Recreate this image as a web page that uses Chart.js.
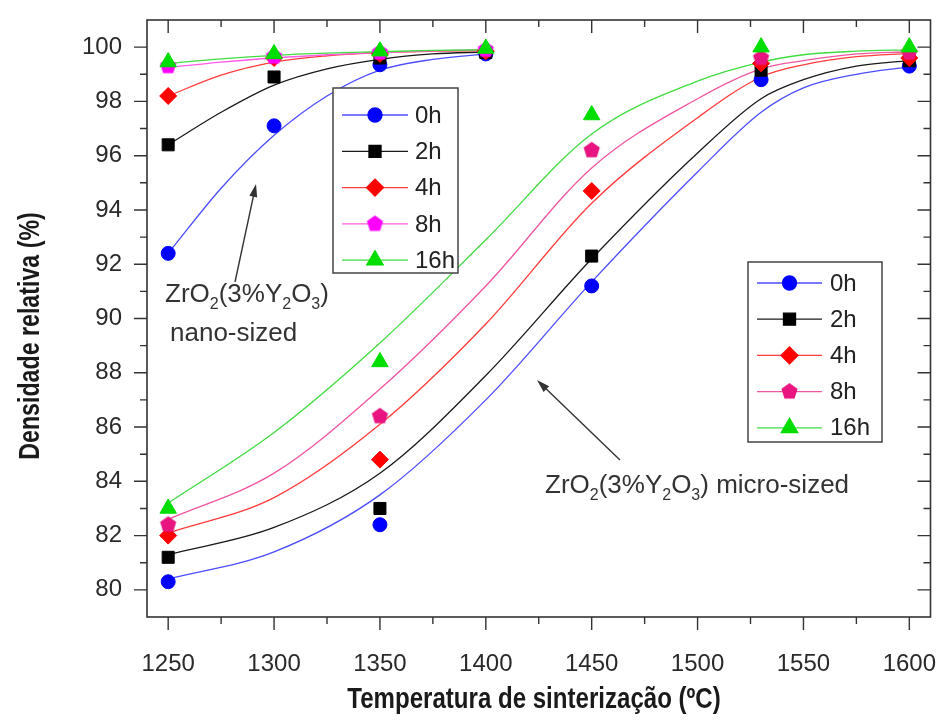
<!DOCTYPE html>
<html>
<head>
<meta charset="utf-8">
<script src="https://cdn.jsdelivr.net/npm/chart.js@4.4.1/dist/chart.umd.min.js"></script>
<style>
  html, body { margin: 0; padding: 0; background: #fff; }
  #wrap { width: 941px; height: 727px; }
</style>
</head>
<body>
<div id="wrap"><canvas id="grafico" width="941" height="727"></canvas></div>
<script>
// eixos
const xTicks = [1250, 1300, 1350, 1400, 1450, 1500, 1550, 1600];
const yTicks = [80, 82, 84, 86, 88, 90, 92, 94, 96, 98, 100];
const holdTimes = ['0h', '2h', '4h', '8h', '16h'];

// ZrO2(3%Y2O3) nano - pontos medidos
const nanoTemps = [1250, 1300, 1350, 1400];
const nano0h  = [92.4, 97.1, 99.35, 99.75];
const nano2h  = [96.4, 98.9, 99.6, 99.8];
const nano4h  = [98.2, 99.6, 99.75, 99.85];
const nano8h  = [99.3, 99.65, 99.8, 99.9];
const nano16h = [99.45, 99.75, 99.85, 99.95];

// nano - curvas ajustadas
const nanoFitTemps = [1250, 1275, 1300, 1325, 1350, 1375, 1400];
const nanoFit0h  = [92.4, 94.8, 96.75, 98.2, 99.15, 99.55, 99.75];
const nanoFit2h  = [96.4, 97.6, 98.6, 99.2, 99.55, 99.75, 99.82];
const nanoFit4h  = [98.2, 98.97, 99.45, 99.68, 99.8, 99.85, 99.87];
const nanoFit8h  = [99.25, 99.45, 99.6, 99.72, 99.8, 99.86, 99.9];
const nanoFit16h = [99.4, 99.57, 99.7, 99.78, 99.83, 99.88, 99.9];

// ZrO2(3%Y2O3) micro - pontos medidos
const microTemps = [1250, 1350, 1450, 1530, 1600];
const micro0h  = [80.3, 82.4, 91.2, 98.8, 99.3];
const micro2h  = [81.2, 83.0, 92.3, 99.15, 99.5];
const micro4h  = [82.0, 84.8, 94.7, 99.4, 99.6];
const micro8h  = [82.4, 86.4, 96.2, 99.6, 99.8];
const micro16h = [83.0, 88.4, 97.5, 100.0, 100.0];

// micro - curvas ajustadas
const microFitTemps = [1250, 1300, 1350, 1400, 1450, 1500, 1530, 1550, 1575, 1600];
const microFit0h  = [80.4, 81.4, 83.5, 87.0, 91.35, 95.4, 97.6, 98.5, 99.0, 99.27];
const microFit2h  = [81.3, 82.3, 84.3, 87.9, 92.2, 96.1, 98.1, 98.8, 99.3, 99.5];
const microFit4h  = [82.1, 83.4, 86.1, 89.8, 94.25, 97.4, 98.9, 99.35, 99.65, 99.77];
const microFit8h  = [82.6, 84.3, 87.4, 91.2, 95.55, 98.1, 99.2, 99.5, 99.75, 99.83];
const microFit16h = [83.2, 85.8, 89.1, 92.9, 96.8, 98.75, 99.45, 99.72, 99.85, 99.9];

const nanoMarkerColors  = ['#0000ff', '#000000', '#ff0000', '#ff00ff', '#00dd00'];
const microMarkerColors = ['#0000ff', '#000000', '#ff0000', '#e8147f', '#00dd00'];
const nanoLineColors  = ['#4d4dff', '#1a1a1a', '#ff3b3b', '#ff5ce6', '#40dc40'];
const microLineColors = ['#4d4dff', '#1a1a1a', '#ff3b3b', '#f0559f', '#40dc40'];

// pentagono pro 8h (chart.js nao tem esse pointStyle)
function pentagono(cor, r) {
    const c = document.createElement('canvas');
    const s = Math.ceil(r * 2 + 2);
    c.width = s; c.height = s;
    const g = c.getContext('2d');
    g.fillStyle = cor;
    g.beginPath();
    for (let i = 0; i < 5; i++) {
        const a = -Math.PI / 2 + i * 2 * Math.PI / 5;
        g.lineTo(s / 2 + r * Math.cos(a), s / 2 + r * Math.sin(a));
    }
    g.closePath();
    g.fill();
    return c;
}

const estilos = ['circle', 'rect', 'rectRot', null, 'triangle'];
const raios = [7, 8.5, 8.5, 8, 9.5];

function pts(xs, ys) {
    return xs.map((x, i) => ({ x: x, y: ys[i] }));
}

function estiloPonto(i, cores) {
    return estilos[i] || pentagono(cores[i], 8.5);
}

const nanoSeries = [nano0h, nano2h, nano4h, nano8h, nano16h];
const nanoFits = [nanoFit0h, nanoFit2h, nanoFit4h, nanoFit8h, nanoFit16h];
const microSeries = [micro0h, micro2h, micro4h, micro8h, micro16h];
const microFits = [microFit0h, microFit2h, microFit4h, microFit8h, microFit16h];

let datasets = [];
holdTimes.forEach(function (h, i) {
    datasets.push({
        label: h + ' fit nano',
        data: pts(nanoFitTemps, nanoFits[i]),
        borderColor: nanoLineColors[i],
        borderWidth: 1.3,
        pointRadius: 0,
        cubicInterpolationMode: 'monotone',
        fill: false,
        order: 20 - i
    });
    datasets.push({
        label: h + ' fit micro',
        data: pts(microFitTemps, microFits[i]),
        borderColor: microLineColors[i],
        borderWidth: 1.3,
        pointRadius: 0,
        cubicInterpolationMode: 'monotone',
        fill: false,
        order: 20 - i
    });
    datasets.push({
        label: h,
        data: pts(nanoTemps, nanoSeries[i]),
        showLine: false,
        pointStyle: estiloPonto(i, nanoMarkerColors),
        pointRadius: raios[i],
        backgroundColor: nanoMarkerColors[i],
        borderColor: nanoMarkerColors[i],
        borderWidth: 1,
        order: 4 - i
    });
    datasets.push({
        label: h,
        data: pts(microTemps, microSeries[i]),
        showLine: false,
        pointStyle: estiloPonto(i, microMarkerColors),
        pointRadius: raios[i],
        backgroundColor: microMarkerColors[i],
        borderColor: microMarkerColors[i],
        borderWidth: 1,
        order: 4 - i
    });
});

// legendas em caixa (duas, uma por material)
function desenhaLegenda(ctx, caixa, cores, coresLinha) {
    ctx.save();
    ctx.fillStyle = '#fff';
    ctx.fillRect(caixa.x, caixa.y, caixa.w, caixa.h);
    ctx.strokeStyle = '#444';
    ctx.lineWidth = 1.5;
    ctx.strokeRect(caixa.x, caixa.y, caixa.w, caixa.h);
    holdTimes.forEach(function (h, i) {
        const y = caixa.y0 + i * caixa.passo;
        ctx.strokeStyle = coresLinha[i];
        ctx.lineWidth = 1.3;
        ctx.beginPath();
        ctx.moveTo(caixa.l0, y);
        ctx.lineTo(caixa.l1, y);
        ctx.stroke();
        ctx.fillStyle = cores[i];
        ctx.strokeStyle = cores[i];
        Chart.helpers.drawPoint(ctx, {
            pointStyle: estiloPonto(i, cores),
            rotation: 0,
            radius: raios[i],
            borderWidth: 1
        }, (caixa.l0 + caixa.l1) / 2, y);
        ctx.fillStyle = '#222';
        ctx.font = '24px "Liberation Sans", Arial, sans-serif';
        ctx.textAlign = 'left';
        ctx.textBaseline = 'middle';
        ctx.fillText(h, caixa.tx, y + 1);
    });
    ctx.restore();
}

// texto com subscrito: partes [texto, subscrito?]
function textoQuimico(ctx, partes, x, y, tam) {
    partes.forEach(function (p) {
        if (p[1]) {
            ctx.font = Math.round(tam * 0.62) + 'px "Liberation Sans", Arial, sans-serif';
            ctx.fillText(p[0], x, y + tam * 0.28);
        } else {
            ctx.font = tam + 'px "Liberation Sans", Arial, sans-serif';
            ctx.fillText(p[0], x, y);
        }
        x += ctx.measureText(p[0]).width;
    });
}

function seta(ctx, x0, y0, x1, y1) {
    const a = Math.atan2(y1 - y0, x1 - x0);
    ctx.beginPath();
    ctx.moveTo(x0, y0);
    ctx.lineTo(x1 - 10 * Math.cos(a), y1 - 10 * Math.sin(a));
    ctx.stroke();
    ctx.beginPath();
    ctx.moveTo(x1, y1);
    ctx.lineTo(x1 - 13 * Math.cos(a) + 4 * Math.sin(a), y1 - 13 * Math.sin(a) - 4 * Math.cos(a));
    ctx.lineTo(x1 - 13 * Math.cos(a) - 4 * Math.sin(a), y1 - 13 * Math.sin(a) + 4 * Math.cos(a));
    ctx.closePath();
    ctx.fill();
}

// titulo condensado (nao tem fonte narrow instalada, entao estreita na mao)
function tituloEstreito(ctx, texto, x, y, rot, esc) {
    ctx.save();
    ctx.translate(x, y);
    ctx.rotate(rot);
    ctx.scale(esc, 1);
    ctx.fillText(texto, 0, 0);
    ctx.restore();
}

const moldura = {
    id: 'moldura',
    afterDatasetsDraw(chart) {
        const ctx = chart.ctx;
        const a = chart.chartArea;
        const sx = chart.scales.x, sy = chart.scales.y;

        ctx.save();
        ctx.strokeStyle = '#333';
        ctx.lineWidth = 1.6;
        ctx.strokeRect(a.left, a.top, a.right - a.left, a.bottom - a.top);

        // marcas: fora em baixo/esquerda, dentro em cima/direita
        ctx.lineWidth = 1.4;
        function marcaX(v, len) {
            const px = sx.getPixelForValue(v);
            ctx.beginPath();
            ctx.moveTo(px, a.bottom); ctx.lineTo(px, a.bottom + len);
            ctx.moveTo(px, a.top); ctx.lineTo(px, a.top + len);
            ctx.stroke();
        }
        function marcaY(v, len) {
            const py = sy.getPixelForValue(v);
            ctx.beginPath();
            ctx.moveTo(a.left - len, py); ctx.lineTo(a.left, py);
            ctx.moveTo(a.right - len, py); ctx.lineTo(a.right, py);
            ctx.stroke();
        }
        xTicks.forEach(function (v, i) {
            marcaX(v, 13);
            if (i > 0) marcaX((v + xTicks[i - 1]) / 2, 7);
        });
        yTicks.forEach(function (v, i) {
            marcaY(v, 13);
            if (i > 0) marcaY((v + yTicks[i - 1]) / 2, 7);
        });

        // titulos dos eixos
        ctx.fillStyle = '#1a1a1a';
        ctx.font = 'bold 29px "Liberation Sans", Arial, sans-serif';
        ctx.textAlign = 'center';
        ctx.textBaseline = 'middle';
        tituloEstreito(ctx, 'Temperatura de sinterização (ºC)', 534, 700, 0, 0.83);
        tituloEstreito(ctx, 'Densidade relativa (%)', 31, 336, -Math.PI / 2, 0.8);

        // anotacoes
        ctx.fillStyle = '#333';
        ctx.strokeStyle = '#333';
        ctx.lineWidth = 1.4;
        ctx.textAlign = 'left';
        ctx.textBaseline = 'alphabetic';
        textoQuimico(ctx, [['ZrO'], ['2', 1], ['(3%Y'], ['2', 1], ['O'], ['3', 1], [')']], 165, 302, 26);
        ctx.font = '26px "Liberation Sans", Arial, sans-serif';
        ctx.fillText('nano-sized', 170, 341);
        seta(ctx, 235, 282, 256, 184);

        textoQuimico(ctx, [['ZrO'], ['2', 1], ['(3%Y'], ['2', 1], ['O'], ['3', 1], [') micro-sized']], 545, 493, 26);
        seta(ctx, 620, 460, 537, 380);

        ctx.restore();

        desenhaLegenda(ctx, { x: 333, y: 88, w: 125, h: 185, y0: 115, passo: 36.3, l0: 342, l1: 408, tx: 415 },
            nanoMarkerColors, nanoLineColors);
        desenhaLegenda(ctx, { x: 748, y: 262, w: 134, h: 180, y0: 283, passo: 36.2, l0: 757, l1: 822, tx: 830 },
            microMarkerColors, microLineColors);
    }
};

const fonteTicks = { family: '"Liberation Sans", Arial, sans-serif', size: 24 };

new Chart(document.getElementById('grafico'), {
    type: 'line',
    data: { datasets: datasets },
    plugins: [moldura],
    options: {
        responsive: false,
        animation: false,
        layout: { padding: { left: 0, top: 20, right: 10, bottom: 0 } },
        plugins: {
            legend: { display: false },
            tooltip: { enabled: false }
        },
        scales: {
            x: {
                type: 'linear',
                min: 1240,
                max: 1610,
                afterBuildTicks: function (scale) {
                    scale.ticks = xTicks.map(v => ({ value: v }));
                },
                afterFit: function (scale) {
                    scale.height = 110;
                    scale.paddingLeft = 0;
                    scale.paddingRight = 0;
                },
                grid: { display: false, drawTicks: false, tickLength: 0 },
                border: { display: false },
                ticks: {
                    font: fonteTicks, color: '#2a2a2a', padding: 33, maxRotation: 0,
                    callback: function (v) { return String(v); }
                }
            },
            y: {
                type: 'linear',
                min: 79,
                max: 101,
                afterBuildTicks: function (scale) {
                    scale.ticks = yTicks.map(v => ({ value: v }));
                },
                afterFit: function (scale) {
                    scale.width = 147;
                    scale.paddingTop = 0;
                    scale.paddingBottom = 0;
                },
                grid: { display: false, drawTicks: false, tickLength: 0 },
                border: { display: false },
                ticks: { font: fonteTicks, color: '#2a2a2a', padding: 25 }
            }
        }
    }
});
</script>
</body>
</html>
